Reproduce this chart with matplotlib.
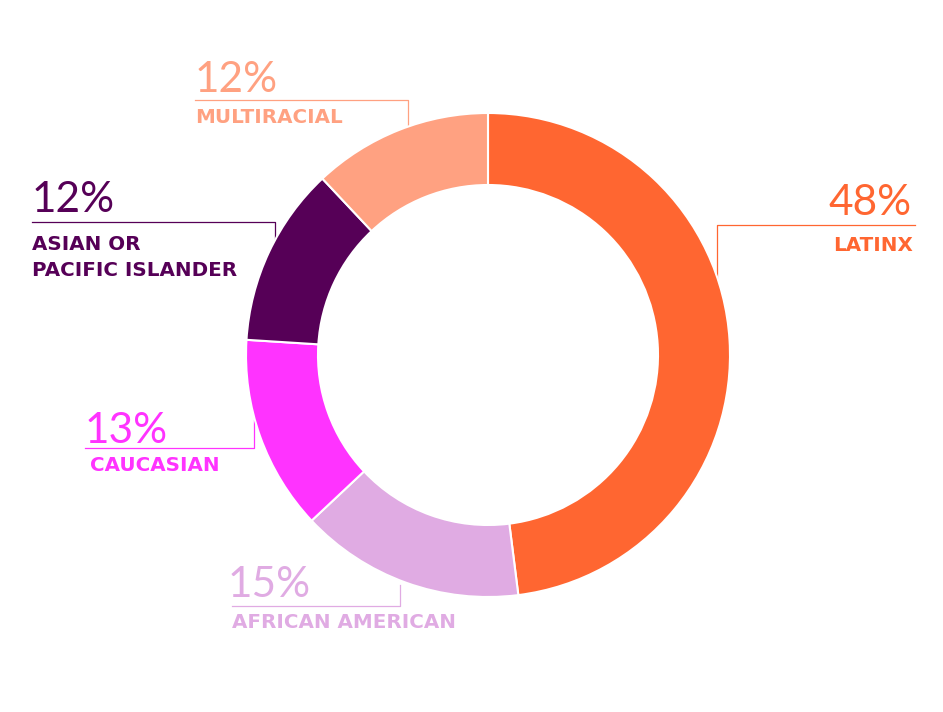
import matplotlib
matplotlib.use("Agg")
import matplotlib.pyplot as plt

# data
groups = ["LATINX", "AFRICAN AMERICAN", "CAUCASIAN", "ASIAN OR\nPACIFIC ISLANDER", "MULTIRACIAL"]
shares = [48, 15, 13, 12, 12]
colors = ["#FF6631", "#E0ABE3", "#FF33FF", "#560057", "#FFA181"]

W, H = 943, 712
fig = plt.figure(figsize=(W / 100, H / 100), dpi=100)
ax = fig.add_axes([0, 0, 1, 1])

# y axis is flipped below, so start at -90 and run counterclockwise in data
# coords to get a clockwise ring starting at 12 o'clock on screen
cx, cy, r = 488, 355, 242
ax.pie(shares, colors=colors, startangle=-90, counterclock=True,
       center=(cx, cy), radius=r,
       wedgeprops=dict(width=72, edgecolor="white", linewidth=1.5),
       normalize=True)

ax.set_xlim(0, W)
ax.set_ylim(H, 0)
ax.set_aspect("equal")
ax.axis("off")

pct_font = dict(family="Lato", weight="normal", fontsize=30.5)
lab_font = dict(family="DejaVu Sans", weight="heavy", fontsize=14.3)

# label layout: (pct x, pct y, label x, label y, align, leader path)
layout = {
    "LATINX": (912, 215, 913, 251, "right", [(915, 225), (717, 225), (717, 290)]),
    "AFRICAN AMERICAN": (228, 597, 232, 628, "left", [(232, 606), (400, 606), (400, 585)]),
    "CAUCASIAN": (85, 443, 90, 471, "left", [(85, 448), (254, 448), (254, 420)]),
    "ASIAN OR\nPACIFIC ISLANDER": (32, 212, 32, 276, "left", [(32, 222), (275, 222), (275, 245)]),
    "MULTIRACIAL": (195, 92, 195, 123, "left", [(195, 100), (408, 100), (408, 130)]),
}

for g, s, c in zip(groups, shares, colors):
    px, py, lx, ly, ha, path = layout[g]
    ax.text(px, py, f"{s}%", color=c, ha=ha, va="baseline", **pct_font)
    ax.text(lx, ly, g, color=c, ha=ha, va="baseline", linespacing=1.45, **lab_font)
    xs = [p[0] for p in path]
    ys = [p[1] for p in path]
    ax.plot(xs, ys, color=c, lw=0.9, zorder=0)

fig.savefig("out.png", dpi=100, facecolor="white")
